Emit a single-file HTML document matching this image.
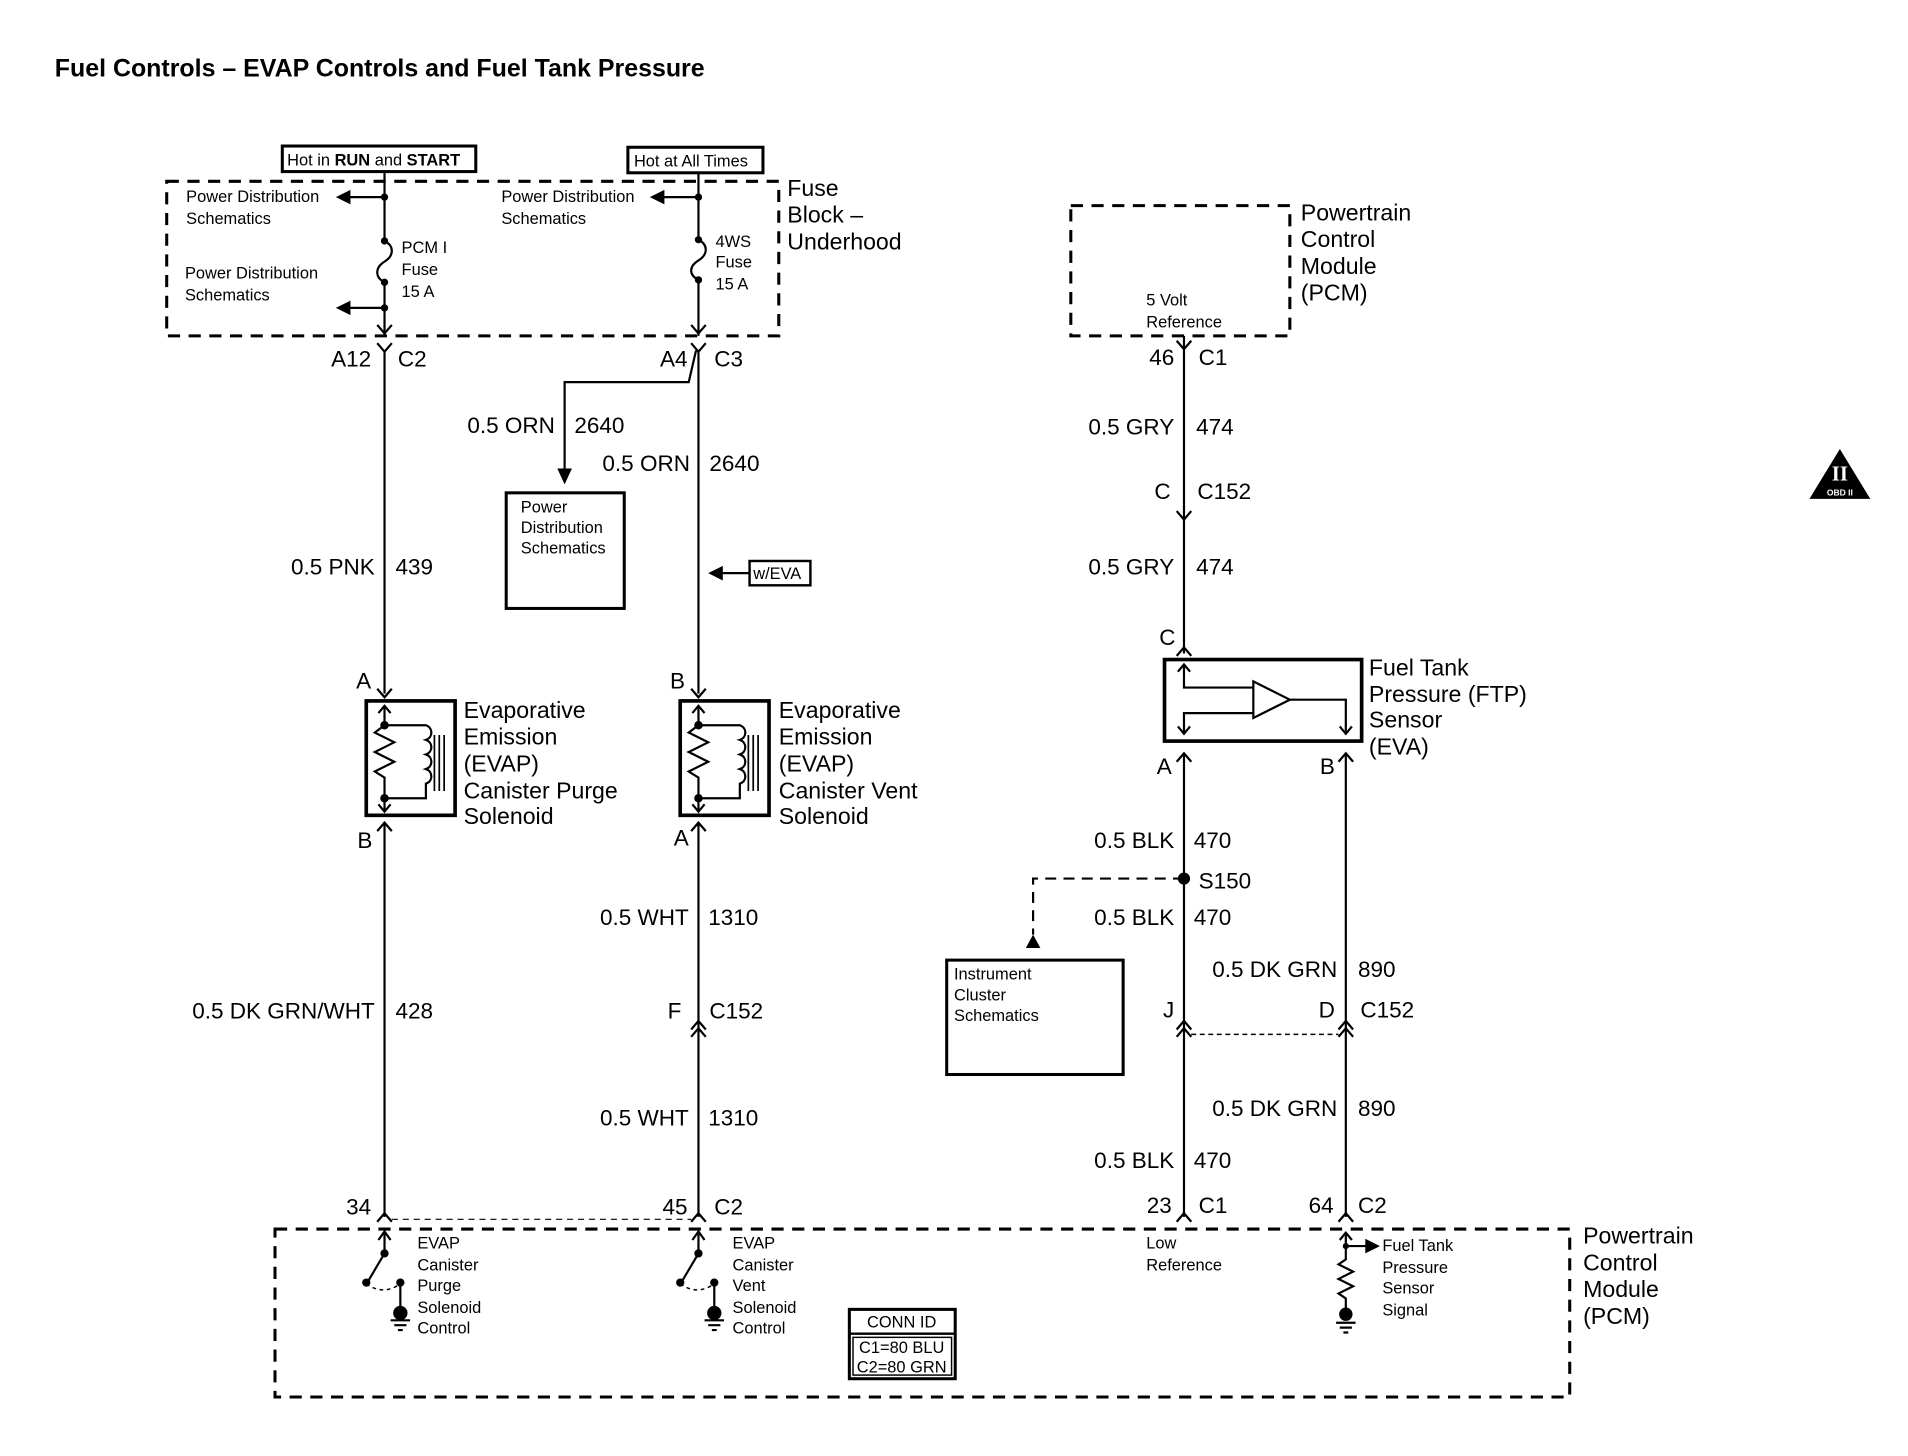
<!DOCTYPE html>
<html><head><meta charset="utf-8"><style>
html,body{margin:0;padding:0;background:#fff;}
svg{display:block;}
text{font-family:"Liberation Sans",Arial,sans-serif;fill:#000;}
.s{font-size:13.5px;}
.m{font-size:18.5px;}
.l{font-size:19px;}
</style></head><body>
<svg width="1908" height="1456" viewBox="0 0 1568 1196.5" preserveAspectRatio="none" xmlns="http://www.w3.org/2000/svg">
<text x="45" y="63" style="font-size:20.5px;font-weight:bold">Fuel Controls – EVAP Controls and Fuel Tank Pressure</text>

<!-- Hot boxes -->
<rect x="232" y="120" width="159" height="21" fill="none" stroke="#000" stroke-width="2.5"/>
<text x="236" y="136" class="s">Hot in <tspan font-weight="bold">RUN</tspan> and <tspan font-weight="bold">START</tspan></text>
<rect x="516" y="121" width="111" height="21" fill="none" stroke="#000" stroke-width="2.5"/>
<text x="521" y="137" class="s">Hot at All Times</text>

<!-- Fuse block dashed -->
<rect x="137" y="149" width="503" height="127" fill="none" stroke="#000" stroke-width="2.5" stroke-dasharray="10,7"/>
<text x="647" y="161" class="l">Fuse</text>
<text x="647" y="183" class="l">Block –</text>
<text x="647" y="205" class="l">Underhood</text>

<g stroke="#000" stroke-width="1.8" fill="none">
<line x1="316" y1="141" x2="316" y2="198"/>
<path d="M316,198 c8,4 8,12 0,17 c-8,5 -8,13 0,17"/>
<line x1="316" y1="232" x2="316" y2="276"/>
<line x1="316" y1="162" x2="286" y2="162"/>
<line x1="316" y1="253" x2="286" y2="253"/>
<path d="M310,267 L316,274 L322,267"/>
<path d="M310,282 L316,289 L322,282"/>
<line x1="316" y1="289" x2="316" y2="570"/>
<line x1="574" y1="142" x2="574" y2="197"/>
<path d="M574,197 c8,4 8,12 0,17 c-8,5 -8,12 0,16"/>
<line x1="574" y1="230" x2="574" y2="276"/>
<line x1="574" y1="162" x2="544" y2="162"/>
<path d="M568,267 L574,274 L580,267"/>
<path d="M568,282 L574,289 L580,282"/>
<line x1="574" y1="289" x2="574" y2="570"/>
<path d="M572,288 L566,314 L464,314 L464,388"/>
<line x1="616" y1="471" x2="592" y2="471"/>
</g>
<g fill="#000">
<circle cx="316" cy="162" r="3"/><circle cx="316" cy="198" r="3"/><circle cx="316" cy="232" r="3"/><circle cx="316" cy="253" r="3"/>
<circle cx="574" cy="162" r="3"/><circle cx="574" cy="197" r="3"/><circle cx="574" cy="230" r="3"/>
<path d="M276,162 L288,156 L288,168z"/><path d="M276,253 L288,247 L288,259z"/>
<path d="M534,162 L546,156 L546,168z"/>
<path d="M464,398 L458,385 L470,385z"/>
<path d="M582,471 L594,465 L594,477z"/>
</g>
<text x="153" y="166" class="s">Power Distribution</text><text x="153" y="184" class="s">Schematics</text>
<text x="152" y="229" class="s">Power Distribution</text><text x="152" y="247" class="s">Schematics</text>
<text x="330" y="208" class="s">PCM I</text><text x="330" y="226" class="s">Fuse</text><text x="330" y="244" class="s">15 A</text>
<text x="412" y="166" class="s">Power Distribution</text><text x="412" y="184" class="s">Schematics</text>
<text x="588" y="203" class="s">4WS</text><text x="588" y="220" class="s">Fuse</text><text x="588" y="238" class="s">15 A</text>

<text x="305" y="301" class="m" text-anchor="end">A12</text><text x="327" y="301" class="m">C2</text>
<text x="565" y="301" class="m" text-anchor="end">A4</text><text x="587" y="301" class="m">C3</text>
<text x="456" y="356" class="m" text-anchor="end">0.5 ORN</text><text x="472" y="356" class="m">2640</text>
<text x="567" y="387" class="m" text-anchor="end">0.5 ORN</text><text x="583" y="387" class="m">2640</text>
<text x="308" y="472" class="m" text-anchor="end">0.5 PNK</text><text x="325" y="472" class="m">439</text>

<rect x="416" y="405" width="97" height="95" fill="none" stroke="#000" stroke-width="2.5"/>
<text x="428" y="421" class="s">Power</text><text x="428" y="438" class="s">Distribution</text><text x="428" y="455" class="s">Schematics</text>
<rect x="616" y="461" width="50" height="20" fill="none" stroke="#000" stroke-width="2"/>
<text x="619" y="476" class="s">w/EVA</text>

<g id="sol" stroke="#000" fill="none">
<path stroke-width="1.8" d="M310,566 L316,573 L322,566"/>
<rect x="301" y="576" width="73" height="94" stroke-width="3"/>
<path stroke-width="1.8" d="M316,580 L316,596 l-8,6 l16,8 l-16,8 l16,8 l-16,8 l8,5 L316,667 M311,586 L316,580 L321,586 M311,661 L316,667 L321,661"/>
<path stroke-width="1.8" d="M316,596 L350,596 c6,2 6,10 0,12 c6,2 6,10 0,12 c6,2 6,10 0,12 c6,2 6,10 0,12 L350,656 L316,656"/>
<path stroke-width="1.4" d="M357,604 V650 M361,604 V650 M365,604 V650"/>
<circle cx="316" cy="596" r="3" fill="#000"/><circle cx="316" cy="656" r="3" fill="#000"/>
<path stroke-width="1.8" d="M310,683 L316,676 L322,683 M316,676 L316,1000"/>
</g>
<use href="#sol" transform="translate(258,0)"/>

<text x="381" y="590" class="l">Evaporative</text><text x="381" y="612" class="l">Emission</text><text x="381" y="634" class="l">(EVAP)</text><text x="381" y="656" class="l">Canister Purge</text><text x="381" y="677" class="l">Solenoid</text>
<text x="640" y="590" class="l">Evaporative</text><text x="640" y="612" class="l">Emission</text><text x="640" y="634" class="l">(EVAP)</text><text x="640" y="656" class="l">Canister Vent</text><text x="640" y="677" class="l">Solenoid</text>
<text x="305" y="566" class="m" text-anchor="end">A</text><text x="563" y="566" class="m" text-anchor="end">B</text>
<text x="306" y="697" class="m" text-anchor="end">B</text><text x="566" y="695" class="m" text-anchor="end">A</text>

<text x="308" y="837" class="m" text-anchor="end">0.5 DK GRN/WHT</text><text x="325" y="837" class="m">428</text>
<text x="566" y="760" class="m" text-anchor="end">0.5 WHT</text><text x="582" y="760" class="m">1310</text>
<text x="560" y="837" class="m" text-anchor="end">F</text><text x="583" y="837" class="m">C152</text>
<g stroke="#000" stroke-width="1.8" fill="none">
<path d="M568,846 L574,839 L580,846 M568,852 L574,845 L580,852"/>
</g>
<text x="566" y="925" class="m" text-anchor="end">0.5 WHT</text><text x="582" y="925" class="m">1310</text>

<text x="305" y="998" class="m" text-anchor="end">34</text>
<text x="565" y="998" class="m" text-anchor="end">45</text><text x="587" y="998" class="m">C2</text>
<g stroke="#000" stroke-width="1.8" fill="none">
<path d="M310,1004 L316,997 L322,1004 M568,1004 L574,997 L580,1004"/>
<line x1="322" y1="1002" x2="568" y2="1002" stroke-width="1" stroke-dasharray="5,4"/>
</g>
<rect x="226" y="1010" width="1064" height="138" fill="none" stroke="#000" stroke-width="2.5" stroke-dasharray="10,7"/>

<g id="sw" stroke="#000" fill="none" stroke-width="1.8">
<path d="M316,1014 L316,1030 L303,1052 M311,1019 L316,1012 L321,1019"/>
<path d="M301,1055 q14,10 28,0" stroke-width="1.2" stroke-dasharray="3,3"/>
<line x1="329" y1="1055" x2="329" y2="1076"/>
<circle cx="316" cy="1030" r="2.5" fill="#000"/><circle cx="301" cy="1054" r="2.5" fill="#000"/><circle cx="329" cy="1054" r="2.5" fill="#000"/>
<circle cx="329" cy="1079" r="5" fill="#000"/>
<path d="M321,1085 H337 M324,1089 H334 M327,1093 H331"/>
</g>
<use href="#sw" transform="translate(258,0)"/>
<text x="343" y="1026" class="s">EVAP</text><text x="343" y="1044" class="s">Canister</text><text x="343" y="1061" class="s">Purge</text><text x="343" y="1079" class="s">Solenoid</text><text x="343" y="1096" class="s">Control</text>
<text x="602" y="1026" class="s">EVAP</text><text x="602" y="1044" class="s">Canister</text><text x="602" y="1061" class="s">Vent</text><text x="602" y="1079" class="s">Solenoid</text><text x="602" y="1096" class="s">Control</text>

<rect x="698" y="1076" width="87" height="57" fill="none" stroke="#000" stroke-width="2.5"/>
<line x1="698" y1="1096" x2="785" y2="1096" stroke="#000" stroke-width="2"/>
<rect x="701" y="1099" width="81" height="31" fill="none" stroke="#000" stroke-width="1.2"/>
<text x="741" y="1091" class="s" text-anchor="middle">CONN ID</text>
<text x="741" y="1112" class="s" text-anchor="middle">C1=80 BLU</text>
<text x="741" y="1128" class="s" text-anchor="middle">C2=80 GRN</text>

<text x="1301" y="1022" class="l">Powertrain</text><text x="1301" y="1044" class="l">Control</text><text x="1301" y="1066" class="l">Module</text><text x="1301" y="1088" class="l">(PCM)</text>

<rect x="880" y="169" width="180" height="107" fill="none" stroke="#000" stroke-width="2.5" stroke-dasharray="10,7"/>
<text x="942" y="251" class="s">5 Volt</text><text x="942" y="269" class="s">Reference</text>
<text x="1069" y="181" class="l">Powertrain</text><text x="1069" y="203" class="l">Control</text><text x="1069" y="225" class="l">Module</text><text x="1069" y="247" class="l">(PCM)</text>

<g stroke="#000" stroke-width="1.8" fill="none">
<path d="M967,280 L973,287 L979,280"/>
<line x1="973" y1="276" x2="973" y2="537"/>
<path d="M967,420 L973,427 L979,420"/>
<path d="M967,539 L973,532 L979,539"/>
<rect x="957" y="542" width="162" height="67" stroke-width="3"/>
<path d="M973,546 L973,565 L1030,565 M968,552 L973,546 L978,552"/>
<path d="M973,603 L973,586 L1030,586 M968,597 L973,603 L978,597"/>
<path d="M1030,560 L1030,590 L1060,575 Z"/>
<path d="M1060,575 L1106,575 L1106,603 M1101,597 L1106,603 L1111,597"/>
<path d="M967,626 L973,619 L979,626 M1100,626 L1106,619 L1112,626"/>
<line x1="973" y1="619" x2="973" y2="1000"/>
<line x1="1106" y1="619" x2="1106" y2="1000"/>
<path d="M973,722 L849,722 L849,768" stroke-dasharray="9,6"/>
<path d="M967,846 L973,839 L979,846 M967,852 L973,845 L979,852"/>
<path d="M1100,846 L1106,839 L1112,846 M1100,852 L1106,845 L1112,852"/>
<line x1="979" y1="850" x2="1100" y2="850" stroke-width="1.2" stroke-dasharray="4,3"/>
<path d="M967,1004 L973,997 L979,1004 M1100,1004 L1106,997 L1112,1004"/>
<path d="M1106,1014 L1106,1035 l-6,4 l12,6 l-12,6 l12,6 l-12,6 l6,4 L1106,1075 M1101,1019 L1106,1013 L1111,1019"/>
<line x1="1106" y1="1024" x2="1126" y2="1024"/>
<path d="M1098,1087 H1114 M1101,1091 H1111 M1104,1095 H1108"/>
</g>
<g fill="#000">
<circle cx="973" cy="722" r="5"/>
<path d="M849,768 L843,779 L855,779z"/>
<circle cx="1106" cy="1024" r="2.5"/>
<path d="M1134,1024 L1122,1018 L1122,1030z"/>
<circle cx="1106" cy="1080" r="5.5"/>
</g>
<text x="965" y="300" class="m" text-anchor="end">46</text><text x="985" y="300" class="m">C1</text>
<text x="965" y="357" class="m" text-anchor="end">0.5 GRY</text><text x="983" y="357" class="m">474</text>
<text x="962" y="410" class="m" text-anchor="end">C</text><text x="984" y="410" class="m">C152</text>
<text x="965" y="472" class="m" text-anchor="end">0.5 GRY</text><text x="983" y="472" class="m">474</text>
<text x="966" y="530" class="m" text-anchor="end">C</text>
<text x="1125" y="555" class="l">Fuel Tank</text><text x="1125" y="577" class="l">Pressure (FTP)</text><text x="1125" y="598" class="l">Sensor</text><text x="1125" y="620" class="l">(EVA)</text>
<text x="963" y="636" class="m" text-anchor="end">A</text><text x="1097" y="636" class="m" text-anchor="end">B</text>
<text x="965" y="697" class="m" text-anchor="end">0.5 BLK</text><text x="981" y="697" class="m">470</text>
<text x="985" y="730" class="m">S150</text>
<text x="965" y="760" class="m" text-anchor="end">0.5 BLK</text><text x="981" y="760" class="m">470</text>
<rect x="778" y="789" width="145" height="94" fill="none" stroke="#000" stroke-width="2.5"/>
<text x="784" y="805" class="s">Instrument</text><text x="784" y="822" class="s">Cluster</text><text x="784" y="839" class="s">Schematics</text>
<text x="1099" y="803" class="m" text-anchor="end">0.5 DK GRN</text><text x="1116" y="803" class="m">890</text>
<text x="965" y="836" class="m" text-anchor="end">J</text><text x="1097" y="836" class="m" text-anchor="end">D</text><text x="1118" y="836" class="m">C152</text>
<text x="1099" y="917" class="m" text-anchor="end">0.5 DK GRN</text><text x="1116" y="917" class="m">890</text>
<text x="965" y="960" class="m" text-anchor="end">0.5 BLK</text><text x="981" y="960" class="m">470</text>
<text x="963" y="997" class="m" text-anchor="end">23</text><text x="985" y="997" class="m">C1</text>
<text x="1096" y="997" class="m" text-anchor="end">64</text><text x="1116" y="997" class="m">C2</text>
<text x="942" y="1026" class="s">Low</text><text x="942" y="1044" class="s">Reference</text>
<text x="1136" y="1028" class="s">Fuel Tank</text><text x="1136" y="1046" class="s">Pressure</text><text x="1136" y="1063" class="s">Sensor</text><text x="1136" y="1081" class="s">Signal</text>

<path d="M1512,369 L1537,410 L1487,410 Z" fill="#000"/>
<text x="1512" y="395" text-anchor="middle" style="font-size:17px;font-family:'Liberation Serif',serif;font-weight:bold;fill:#fff">II</text>
<text x="1512" y="407" text-anchor="middle" style="font-size:7px;font-weight:bold;fill:#fff">OBD II</text>
</svg>
</body></html>
